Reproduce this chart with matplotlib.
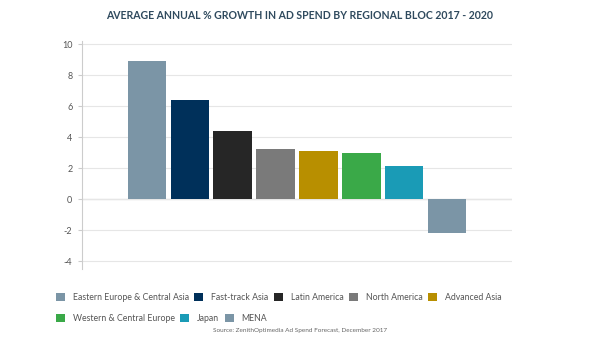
import matplotlib.pyplot as plt
from matplotlib.patches import Patch

# data
regions = ["Eastern Europe & Central Asia", "Fast-track Asia", "Latin America",
           "North America", "Advanced Asia", "Western & Central Europe", "Japan", "MENA"]
growth = [8.9, 6.4, 4.4, 3.2, 3.1, 3.0, 2.1, -2.2]
colors = ["#7b95a6", "#00305a", "#262626", "#7a7a7a", "#b88f00", "#3aa948", "#1a9bb6", "#7b95a6"]
yticks = [-4, -2, 0, 2, 4, 6, 8, 10]

plt.rcParams['font.family'] = ['Lato', 'DejaVu Sans']

fig = plt.figure(figsize=(6, 3.37), dpi=100, facecolor="white")
ax = fig.add_axes([0.137, 0.2025, 0.716, 0.676])

x = list(range(len(regions)))
ax.bar(x, growth, width=0.9, color=colors, zorder=3)

ax.set_xlim(-1.51, len(regions) + 0.51)
ax.set_ylim(-4.5, 10.2)
ax.set_yticks(yticks)
ax.set_yticklabels([str(v) for v in yticks], fontsize=6.5, color="#555555")
ax.set_xticks([])
ax.grid(axis="y", color="#e6e6e6", linewidth=0.8, zorder=0)
ax.axhline(0, color="#c8c8c8", linewidth=0.9, zorder=1)
for s in ["top", "right", "bottom"]:
    ax.spines[s].set_visible(False)
ax.spines["left"].set_color("#cccccc")
ax.spines["left"].set_linewidth(0.8)
ax.tick_params(axis="y", length=3, color="#cccccc", pad=4)

fig.text(0.5, 0.955, "AVERAGE ANNUAL % GROWTH IN AD SPEND BY REGIONAL BLOC 2017 - 2020",
         ha="center", va="center", fontsize=7.6, fontweight="bold", color="#2f4a5e")

handles = [Patch(facecolor=c, edgecolor="none") for c in colors]
leg_kw = dict(frameon=False, fontsize=6.3, handlelength=1.05, handleheight=1.05,
              handletextpad=0.9, columnspacing=0.6, labelcolor="#555555",
              borderaxespad=0, borderpad=0)
leg1 = fig.legend(handles[:5], regions[:5], ncol=5, loc="center left",
                  bbox_to_anchor=(0.093, 0.118), **leg_kw)
leg2 = fig.legend(handles[5:], regions[5:], ncol=3, loc="center left",
                  bbox_to_anchor=(0.093, 0.056), **leg_kw)

fig.text(0.5, 0.018, "Source: ZenithOptimedia Ad Spend Forecast, December 2017",
         ha="center", va="center", fontsize=4.6, color="#666666")

plt.savefig("out.png", dpi=100)
